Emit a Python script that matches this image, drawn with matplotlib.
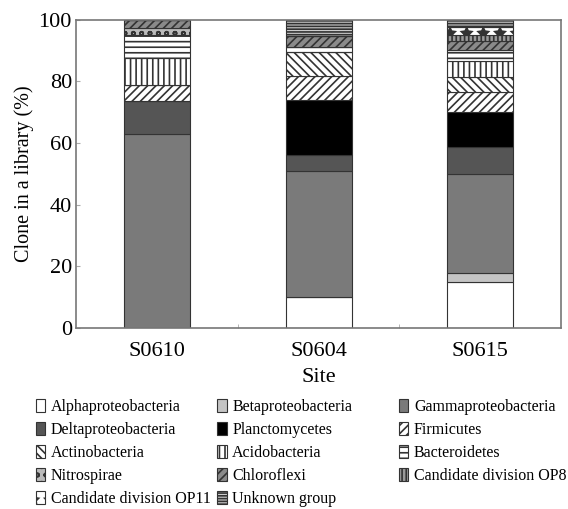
import numpy as np
import matplotlib
matplotlib.use("Agg")
import matplotlib.pyplot as plt

plt.rcParams['font.family'] = ['Liberation Serif', 'DejaVu Serif']
plt.rcParams['hatch.linewidth'] = 1.2

sites = ["S0610", "S0604", "S0615"]

# groups, in stacking order (bottom to top) -- percent of clones per site
groups = ["Alphaproteobacteria", "Betaproteobacteria", "Gammaproteobacteria",
          "Deltaproteobacteria", "Planctomycetes", "Firmicutes",
          "Actinobacteria", "Acidobacteria", "Bacteroidetes",
          "Nitrospirae", "Chloroflexi", "Candidate division OP8",
          "Candidate division OP11", "Unknown group"]

alpha_vals = [0.0, 10.0, 15.0]
beta_vals = [0.0, 0.0, 2.8]
gamma_vals = [63.0, 40.8, 32.2]
delta_vals = [10.5, 5.2, 8.7]
plancto_vals = [0.0, 18.1, 11.5]
firmi_vals = [5.3, 7.8, 6.5]
actino_vals = [0.0, 7.6, 4.9]
acido_vals = [8.7, 0.0, 4.9]
bactero_vals = [7.6, 1.8, 3.8]
nitro_vals = [2.2, 0.0, 0.0]
chloro_vals = [2.7, 3.6, 2.7]
op8_vals = [0.0, 0.0, 2.1]
op11_vals = [0.0, 0.0, 2.5]
unknown_vals = [0.0, 5.1, 2.4]

values = [alpha_vals, beta_vals, gamma_vals, delta_vals, plancto_vals,
          firmi_vals, actino_vals, acido_vals, bactero_vals, nitro_vals,
          chloro_vals, op8_vals, op11_vals, unknown_vals]

# (facecolor, hatch)
styles = [("white", None), ("#c4c4c4", None), ("#7a7a7a", None),
          ("#555555", None), ("black", None), ("white", "////"),
          ("white", "\\\\\\\\"), ("white", "|||"), ("white", "---"),
          ("#bbbbbb", "oo"), ("#8a8a8a", "////"), ("#9a9a9a", "||||"),
          ("white", "*"), ("#cccccc", "------")]

fig = plt.figure(figsize=(5.68, 5.09), dpi=100)
ax = fig.add_axes([0.134, 0.356, 0.854, 0.605])

x = np.arange(len(sites))
bottom = np.zeros(len(sites))
handles = []
for name, vals, (fc, hatch) in zip(groups, values, styles):
    vals = np.array(vals)
    b = ax.bar(x, vals, 0.41, bottom=bottom, color=fc, hatch=hatch,
               edgecolor="#333333", linewidth=0.8, label=name)
    handles.append(b)
    bottom += vals

ax.set_xlim(-0.5, 2.5)
ax.set_ylim(0, 100)
ax.set_yticks([0, 20, 40, 60, 80, 100])
ax.set_xticks(x)
ax.set_xticklabels(sites)
ax.set_xticks([0.5, 1.5], minor=True)
ax.tick_params(axis="x", which="major", length=0, labelsize=16, pad=10)
ax.tick_params(axis="x", which="minor", direction="in", length=3, color="#aaaaaa")
ax.tick_params(axis="y", direction="in", length=3, color="#aaaaaa", labelsize=16, pad=3)
for s in ax.spines.values():
    s.set_color("#777777")
    s.set_linewidth(1.2)
ax.set_xlabel("Site", fontsize=16, labelpad=5)
ax.set_ylabel("Clone in a library (%)", fontsize=14.5, labelpad=3)

# legend: three separate columns, rows read left to right like the original
columns = [[0, 3, 6, 9, 12], [1, 4, 7, 10, 13], [2, 5, 8, 11]]
col_x = [0.063, 0.382, 0.702]
for idx, cx in zip(columns, col_x):
    leg = fig.legend([handles[i] for i in idx], [groups[i] for i in idx],
                     loc="upper left", bbox_to_anchor=(cx, 0.217),
                     frameon=False, fontsize=11.5, handlelength=0.6,
                     handleheight=0.9, handletextpad=0.35, labelspacing=0.44,
                     borderpad=0, borderaxespad=0)

fig.savefig("out.png", dpi=100)
